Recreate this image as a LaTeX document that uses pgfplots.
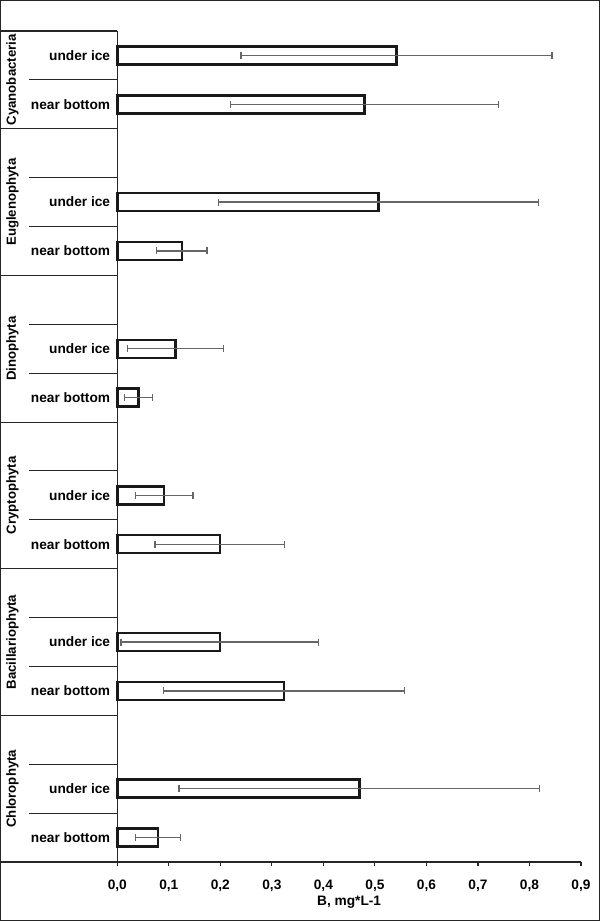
\documentclass[border=0pt]{standalone}
\usepackage{fontspec}
\setmainfont{Liberation Sans}
\usepackage{pgfplots}
\usepackage{pgfplotstable}
\pgfplotsset{compat=1.18}

\pgfplotstableread{
y    val    err
16   0.542  0.302
15   0.480  0.260
13   0.507  0.310
12   0.125  0.049
10   0.113  0.093
9    0.041  0.027
7    0.091  0.056
6    0.199  0.126
4    0.199  0.192
3    0.324  0.234
1    0.470  0.350
0    0.079  0.043
}\datatable

\tikzset{sublab/.style={xshift=-7pt, anchor=east, inner sep=0pt, font=\fontsize{13.7}{16}\selectfont\bfseries},
         grplab/.style={xshift=-104.8pt, rotate=90, anchor=center, inner sep=0pt, font=\fontsize{13.2}{16}\selectfont\bfseries}}

\begin{document}
\begin{tikzpicture}
\useasboundingbox (0,0) rectangle (600pt,921pt);
\draw[line width=1.2pt, black!85] (0.6pt,0.6pt) rectangle (599.4pt,920.4pt);
\begin{axis}[
  at={(117.3pt,59pt)}, anchor=south west,
  scale only axis, width=463.7pt, height=831pt,
  xmin=0, xmax=0.9, ymin=-0.5, ymax=16.5,
  axis x line*=bottom, axis y line*=left,
  axis line style={black!85, line width=1.1pt},
  clip=false,
  xbar, bar width=18pt,
  ytick=\empty,
  xtick={0,0.1,0.2,0.3,0.4,0.5,0.6,0.7,0.8,0.9},
  xticklabels={{0,0},{0,1},{0,2},{0,3},{0,4},{0,5},{0,6},{0,7},{0,8},{0,9}},
  xtick align=outside, major tick length=4pt,
  tick style={black!85, line width=1.1pt},
  every tick label/.append style={font=\fontsize{13.7}{16}\selectfont\bfseries},
  xticklabel style={yshift=-10pt},
  xlabel={B, mg*L-1},
  xlabel style={font=\fontsize{13.7}{16}\selectfont\bfseries, at={(axis description cs:0.5,0)}, anchor=center, yshift=-40pt},
]
\addplot[draw=black!90, fill=white, line width=2.4pt,
  error bars/.cd, x dir=both, x explicit, error mark=|,
  error bar style={line width=1.3pt, black!60},
  error mark options={line width=1.3pt, black!60, mark size=3.5pt}]
  table[x=val, y=y, x error=err] {\datatable};

% group separators
\pgfplotsinvokeforeach{16.5,14.5,11.5,8.5,5.5,2.5,-0.5}{
  \draw[black!85, line width=1.1pt] (axis cs:0,#1) -- ++(-117.3pt,0pt);
}
% sub separators
\pgfplotsinvokeforeach{15.5,13.5,12.5,10.5,9.5,7.5,6.5,4.5,3.5,1.5,0.5}{
  \draw[black!85, line width=1.1pt] (axis cs:0,#1) -- ++(-88pt,0pt);
}
% sub labels
\node[sublab] at (axis cs:0,16) {under ice};
\node[sublab] at (axis cs:0,15) {near bottom};
\node[sublab] at (axis cs:0,13) {under ice};
\node[sublab] at (axis cs:0,12) {near bottom};
\node[sublab] at (axis cs:0,10) {under ice};
\node[sublab] at (axis cs:0,9) {near bottom};
\node[sublab] at (axis cs:0,7) {under ice};
\node[sublab] at (axis cs:0,6) {near bottom};
\node[sublab] at (axis cs:0,4) {under ice};
\node[sublab] at (axis cs:0,3) {near bottom};
\node[sublab] at (axis cs:0,1) {under ice};
\node[sublab] at (axis cs:0,0) {near bottom};
% group labels
\node[grplab] at (axis cs:0,15.5) {Cyanobacteria};
\node[grplab] at (axis cs:0,13) {Euglenophyta};
\node[grplab] at (axis cs:0,10) {Dinophyta};
\node[grplab] at (axis cs:0,7) {Cryptophyta};
\node[grplab] at (axis cs:0,4) {Bacillariophyta};
\node[grplab] at (axis cs:0,1) {Chlorophyta};
\end{axis}
\end{tikzpicture}
\end{document}
